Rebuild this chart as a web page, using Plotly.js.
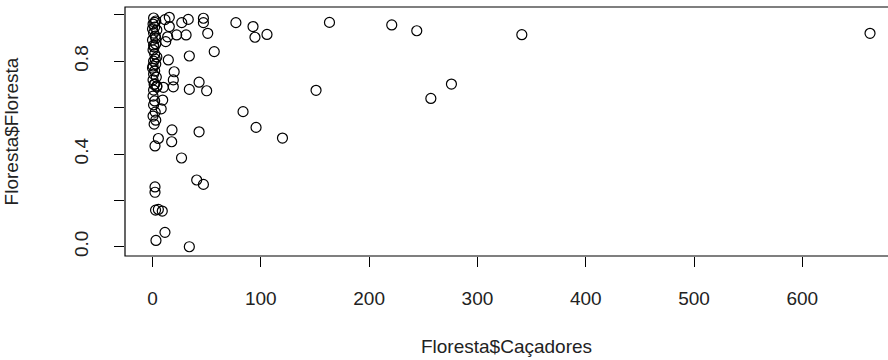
<!DOCTYPE html>
<html>
<head>
<meta charset="utf-8">
<script src="https://cdn.plot.ly/plotly-3.0.1.min.js"></script>
<style>html,body{margin:0;padding:0;background:#fff;}#chart{width:888px;height:360px;}</style>
</head>
<body>
<div id="chart"></div>
<script>
// Floresta$Caçadores (x) and Floresta$Floresta (y)
var cacadores = [
  1, 3, 0.5, 2, 4, 1, 2.5, 0, 3, 1.5, 0.5, 2, 4, 1, 3, 0, 2, 1, 3.5, 0.5,
  2, 4, 1, 0.5, 2, 1, 2.5, 0.5, 3, 1.5,
  2, 0, 3, 1, 2.5, 0.5, 4, 1.5,
  15.5, 11.5, 27, 33, 47, 47, 77, 15.5, 22.3, 31, 51, 14, 12.2, 34, 57, 14.6,
  20, 19.2, 19.2, 43, 34, 50, 10, 9.4, 8, 18, 43, 5.4, 17.7, 2.3, 26.8, 40.8,
  47, 2.3, 2.3, 2.8, 5.4, 9, 11.5, 3.2, 34,
  92.8, 94.6, 105.7, 163.4, 220.9, 244, 341, 662.5, 151, 276, 257, 83.6, 95.6, 120
];
var floresta = [
  0.987, 0.974, 0.961, 0.948, 0.935, 0.922, 0.909, 0.892, 0.875, 0.862, 0.849, 0.832, 0.819, 0.801, 0.788, 0.771, 0.758, 0.745, 0.732, 0.72,
  0.702, 0.694, 0.676, 0.650, 0.629, 0.612, 0.581, 0.564, 0.546, 0.529,
  0.968, 0.94, 0.9, 0.87, 0.81, 0.78, 0.69, 0.70,
  0.99, 0.98, 0.967, 0.981, 0.986, 0.967, 0.967, 0.95, 0.914, 0.914, 0.921, 0.906, 0.885, 0.823, 0.842, 0.806,
  0.755, 0.72, 0.69, 0.71, 0.679, 0.673, 0.688, 0.633, 0.595, 0.504, 0.496, 0.467, 0.453, 0.435, 0.383, 0.288,
  0.269, 0.258, 0.235, 0.158, 0.161, 0.154, 0.062, 0.027, 0.0,
  0.950, 0.904, 0.916, 0.968, 0.957, 0.932, 0.915, 0.921, 0.675, 0.702, 0.640, 0.583, 0.515, 0.469
];
var xTicks = [0, 100, 200, 300, 400, 500, 600];
var xTickText = ["0", "100", "200", "300", "400", "500", "600"];
var yTicks = [0, 0.2, 0.4, 0.6, 0.8, 1.0];
var yTickText = ["0.0", "", "0.4", "", "0.8", ""];

var txtFont = {family: "Liberation Sans, Arial, sans-serif", size: 19, color: "#222"};

var trace = {
  x: cacadores, y: floresta, type: "scatter", mode: "markers",
  marker: {symbol: "circle-open", size: 10, color: "#000", line: {width: 1.2, color: "#000"}},
  hoverinfo: "x+y", cliponaxis: false
};

var layout = {
  width: 888, height: 360,
  margin: {l: 125, r: 0, t: 7, b: 104},
  paper_bgcolor: "#fff", plot_bgcolor: "#fff",
  showlegend: false,
  xaxis: {
    range: [-25.4, 679.1], showgrid: false, zeroline: false, showline: false,
    tickmode: "array", tickvals: xTicks, ticktext: xTickText,
    ticks: "outside", ticklen: 10, tickwidth: 1, tickcolor: "#000",
    ticklabelstandoff: 15, tickfont: txtFont,
    title: {text: "Floresta$Caçadores", font: txtFont, standoff: 31}
  },
  yaxis: {
    range: [-0.040, 1.0345], showgrid: false, zeroline: false, showline: false,
    tickmode: "array", tickvals: yTicks, ticktext: yTickText, tickangle: -90,
    ticks: "outside", ticklen: 10, tickwidth: 1, tickcolor: "#000",
    ticklabelstandoff: 18, tickfont: txtFont,
    title: {text: "Floresta$Floresta", font: txtFont, standoff: 47}
  },
  shapes: [{type: "rect", xref: "paper", yref: "paper", x0: 0, x1: 1.1, y0: 0, y1: 1,
            line: {color: "#000", width: 1.2}, layer: "above"}]
};

Plotly.newPlot("chart", [trace], layout, {staticPlot: true, displayModeBar: false});
</script>
</body>
</html>
